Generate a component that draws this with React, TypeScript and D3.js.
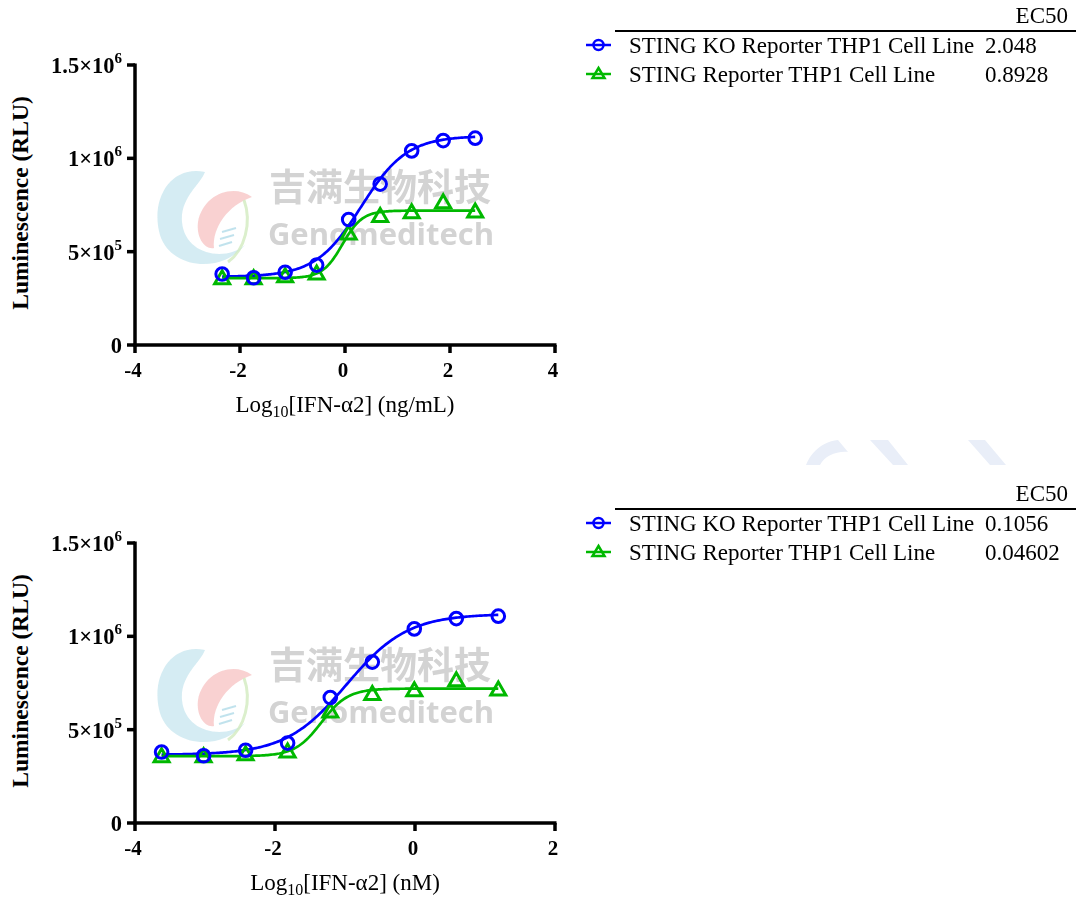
import React from "react";
import * as d3 from "d3";

// ---- data ----
const seriesNames = ["STING KO Reporter THP1 Cell Line", "STING Reporter THP1 Cell Line"];
const xNgml = [-2.34, -1.74, -1.14, -0.54, 0.07, 0.67, 1.27, 1.87, 2.48];
const xNm = [-3.62, -3.02, -2.42, -1.82, -1.21, -0.61, -0.01, 0.59, 1.19];
const koValues = [380000, 360000, 390000, 428000, 672000, 862000, 1040000, 1095000, 1108000];
const stingValues = [355000, 355000, 365000, 380000, 594000, 688000, 708000, 762000, 713000];
const ec50Ngml = [2.048, 0.8928];
const ec50Nm = [0.1056, 0.04602];
const ec50NgmlLabels = ["2.048", "0.8928"];
const ec50NmLabels = ["0.1056", "0.04602"];
const fitBottom = [365000, 358000];
const fitTop = [1120000, 720000];
const fitHill = [1.0, 2.3];
const yTicks = [0, 500000, 1000000, 1500000];
const yTickBase = ["0", "5×10", "1×10", "1.5×10"];
const yTickExp = ["", "5", "6", "6"];
const xTicksTop = [-4, -2, 0, 2, 4];
const xTicksBottom = [-4, -2, 0, 2];

const BLUE = "#0000ff";
const GREEN = "#00b800";
const SERIF = "'Liberation Serif', 'Times New Roman', serif";

function fourPL(x: number, i: number, ec50: number[]) {
  const logEC = Math.log10(ec50[i]);
  return fitBottom[i] + (fitTop[i] - fitBottom[i]) / (1 + Math.pow(10, (logEC - x) * fitHill[i]));
}

function Watermark({ dy }: { dy: number }) {
  return (
    <g transform={`translate(0,${dy})`} opacity={0.9}>
      <path
        d="M205,172 C170,165 150,200 160,235 C170,268 220,275 245,245 C225,262 185,255 182,222 C180,198 200,185 205,172 Z"
        fill="#a9d8e6"
        opacity={0.55}
      />
      <path
        d="M252,197 C232,183 203,195 198,222 C196,238 205,250 214,248 C212,228 228,205 252,197 Z"
        fill="#f2a3a3"
        opacity={0.55}
      />
      <path d="M244,200 C252,222 245,250 228,262" fill="none" stroke="#cde8b8" strokeWidth={3} opacity={0.8} />
      <g stroke="#a9d8e6" strokeWidth={2} opacity={0.8}>
        <line x1={222} y1={232} x2={236} y2={228} />
        <line x1={220} y1={239} x2={234} y2={235} />
        <line x1={219} y1={246} x2={232} y2={242} />
      </g>
      <text x={380} y={201} textAnchor="middle" fontFamily="'Noto Sans CJK SC', sans-serif" fontWeight={700} fontSize={37} fill="#c9c9c9" opacity={0.9}>
        吉满生物科技
      </text>
      <text x={381} y={245} textAnchor="middle" fontFamily="'Open Sans', 'DejaVu Sans', sans-serif" fontWeight={700} fontSize={31} fill="#c9c9c9" opacity={0.9}>
        Genomeditech
      </text>
    </g>
  );
}

function Chart({
  top,
  xTicks,
  xDomain,
  xs,
  ec50,
  unit,
}: {
  top: number;
  xTicks: number[];
  xDomain: [number, number];
  xs: number[];
  ec50: number[];
  unit: string;
}) {
  const x = d3.scaleLinear().domain(xDomain).range([135, 555]);
  const y = d3.scaleLinear().domain([0, 1500000]).range([top + 280, top]);
  const y0 = y(0);
  const colors = [BLUE, GREEN];
  const line = d3
    .line<[number, number]>()
    .x((d) => x(d[0]))
    .y((d) => y(d[1]));
  const curves = [0, 1].map((i) => {
    const pts: [number, number][] = [];
    const a = xs[0];
    const b = xs[xs.length - 1];
    for (let k = 0; k <= 200; k++) {
      const xv = a + ((b - a) * k) / 200;
      pts.push([xv, fourPL(xv, i, ec50)]);
    }
    return line(pts) || "";
  });
  return (
    <g>
      {/* axes */}
      <line x1={135} x2={135} y1={y(1500000) - 1.5} y2={y0 + 1.5} stroke="#000" strokeWidth={3.5} />
      <line x1={133.5} x2={556.5} y1={y0} y2={y0} stroke="#000" strokeWidth={3.5} />
      {yTicks.map((t, i) => (
        <g key={"y" + i}>
          <line x1={127} x2={135} y1={y(t)} y2={y(t)} stroke="#000" strokeWidth={3.5} />
          <text
            x={122}
            y={y(t) + 8}
            textAnchor="end"
            fontFamily={SERIF}
            fontWeight={700}
            fontSize={22.5}
            fill="#000"
          >
            {yTickBase[i]}
            {yTickExp[i] && (
              <tspan dy={-10} fontSize={15}>
                {yTickExp[i]}
              </tspan>
            )}
          </text>
        </g>
      ))}
      {xTicks.map((t, i) => (
        <g key={"x" + i}>
          <line x1={x(t)} x2={x(t)} y1={y0} y2={y0 + 8} stroke="#000" strokeWidth={3.5} />
          <text x={x(t) - 2} y={y0 + 32} textAnchor="middle" fontFamily={SERIF} fontWeight={700} fontSize={21} fill="#000">
            {t < 0 ? "-" + Math.abs(t) : String(t)}
          </text>
        </g>
      ))}
      <text
        transform={`translate(28,${top + 138}) rotate(-90)`}
        textAnchor="middle"
        fontFamily={SERIF}
        fontWeight={700}
        fontSize={23.5}
        fill="#000"
      >
        Luminescence (RLU)
      </text>
      <text x={345} y={y0 + 67} textAnchor="middle" fontFamily={SERIF} fontSize={23} fill="#000">
        Log
        <tspan dy={5} fontSize={16}>10</tspan>
        <tspan dy={-5}>[IFN-α2] ({unit})</tspan>
      </text>
      {/* curves */}
      {curves.map((d, i) => (
        <path key={"c" + i} d={d} fill="none" stroke={colors[i]} strokeWidth={2.7} />
      ))}
      {/* green triangles */}
      {stingValues.map((v, k) => {
        const cx = x(xs[k]);
        const cy = y(v);
        return (
          <path
            key={"t" + k}
            d={`M${cx},${cy - 8} L${cx + 7.5},${cy + 5} L${cx - 7.5},${cy + 5} Z`}
            fill="none"
            stroke={GREEN}
            strokeWidth={3}
            strokeLinejoin="miter"
          />
        );
      })}
      {koValues.map((v, k) => (
        <circle key={"o" + k} cx={x(xs[k])} cy={y(v)} r={6.3} fill="none" stroke={BLUE} strokeWidth={3} />
      ))}
    </g>
  );
}

function Legend({ top, labels }: { top: number; labels: string[] }) {
  const colors = [BLUE, GREEN];
  return (
    <g fontFamily={SERIF} fontSize={23} fill="#000">
      <text x={1068} y={top + 23} textAnchor="end">EC50</text>
      <line x1={615} x2={1076} y1={top + 31} y2={top + 31} stroke="#000" strokeWidth={2} />
      {seriesNames.map((name, i) => {
        const cy = top + 45 + i * 29;
        return (
          <g key={i}>
            <line x1={586} x2={611} y1={cy} y2={cy} stroke={colors[i]} strokeWidth={2.5} />
            {i === 0 ? (
              <circle cx={598.5} cy={cy} r={5} fill="none" stroke={BLUE} strokeWidth={2.5} />
            ) : (
              <path
                d={`M598.5,${cy - 6} L604.5,${cy + 4} L592.5,${cy + 4} Z`}
                fill="none"
                stroke={GREEN}
                strokeWidth={2.5}
              />
            )}
            <text x={629} y={cy + 8}>{name}</text>
            <text x={985} y={cy + 8}>{labels[i]}</text>
          </g>
        );
      })}
    </g>
  );
}

export default function App() {
  return (
    <svg
      width={1080}
      height={900}
      viewBox="0 0 1080 900"
      style={{ position: "absolute", left: 0, top: 0, background: "#fff" }}
    >
      <rect x={0} y={0} width={1080} height={900} fill="#fff" />
      <Watermark dy={0} />
      <Watermark dy={478} />
      <g fill="#e9eef8">
        <path d="M806,465 C812,450 825,441 838,440 L848,452 C836,451 825,456 820,465 Z" />
        <path d="M870,440 L888,440 L908,465 L893,465 Z" />
        <path d="M968,440 L985,440 L1006,465 L990,465 Z" />
      </g>
      <Chart top={65} xTicks={xTicksTop} xDomain={[-4, 4]} xs={xNgml} ec50={ec50Ngml} unit="ng/mL" />
      <Chart top={543} xTicks={xTicksBottom} xDomain={[-4, 2]} xs={xNm} ec50={ec50Nm} unit="nM" />
      <Legend top={0} labels={ec50NgmlLabels} />
      <Legend top={478} labels={ec50NmLabels} />
    </svg>
  );
}
